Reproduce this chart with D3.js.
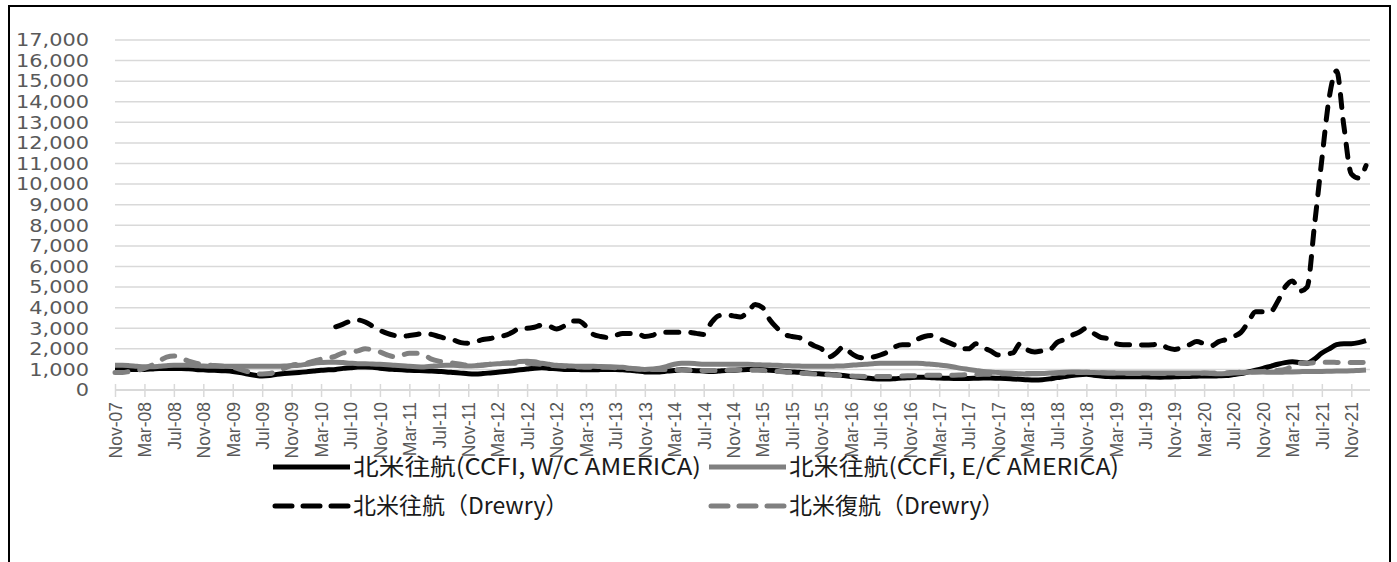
<!DOCTYPE html>
<html><head><meta charset="utf-8">
<script src="https://cdn.jsdelivr.net/npm/d3@7"></script>
<style>html,body{margin:0;padding:0;background:#fff;}svg{display:block;}</style>
</head><body>
<svg id="c" width="1397" height="562"></svg>
<script>
// Categories: monthly, Nov-07 .. Jan-22
const months = d3.timeMonth.range(new Date(2007,10,1), new Date(2022,1,1));
const tickLabels = ["Nov-07","Mar-08","Jul-08","Nov-08","Mar-09","Jul-09","Nov-09","Mar-10","Jul-10","Nov-10","Mar-11","Jul-11","Nov-11","Mar-12","Jul-12","Nov-12","Mar-13","Jul-13","Nov-13","Mar-14","Jul-14","Nov-14","Mar-15","Jul-15","Nov-15","Mar-16","Jul-16","Nov-16","Mar-17","Jul-17","Nov-17","Mar-18","Jul-18","Nov-18","Mar-19","Jul-19","Nov-19","Mar-20","Jul-20","Nov-20","Mar-21","Jul-21","Nov-21"];
const yTicks = [0,1000,2000,3000,4000,5000,6000,7000,8000,9000,10000,11000,12000,13000,14000,15000,16000,17000];
const seriesNames = ["北米往航(CCFI, W/C AMERICA)","北米往航(CCFI, E/C AMERICA)","北米往航（Drewry）","北米復航（Drewry）"];

const ccfiWC = [1000,1000,1000,1000,
1000,1020,1050,1050,1050,1050,1030,1000,
980,960,950,930,900,850,780,720,
680,700,760,800,830,850,880,920,
960,980,1000,1050,1080,1120,1120,1100,
1060,1020,1000,980,960,950,940,920,
900,880,850,820,790,780,800,830,
860,900,940,980,1020,1060,1080,1050,
1030,1000,1000,990,980,980,990,1000,
1000,980,960,920,880,870,880,920,
950,980,960,940,920,900,920,950,
960,980,1000,1000,990,960,930,900,
880,860,830,800,780,760,740,700,
660,620,580,550,530,530,550,580,
600,620,620,600,580,570,560,560,
560,570,580,580,570,560,540,520,
500,490,500,540,600,650,700,740,
760,720,680,650,640,640,640,640,
640,630,620,630,640,650,660,670,
680,680,690,700,750,800,880,960,
1050,1150,1250,1330,1370,1330,1300,1500,
1800,2000,2200,2250,2250,2300,2400];

const ccfiEC = [1200,1200,1180,1150,1130,1130,1150,1180,1200,1200,1200,1180,
1160,1150,1150,1150,1150,1150,1150,1150,
1150,1150,1150,1160,1180,1200,1250,1300,
1330,1350,1350,1330,1300,1280,1280,1260,
1250,1230,1200,1180,1150,1130,1120,1150,
1180,1200,1200,1180,1170,1180,1200,1250,
1270,1300,1330,1380,1400,1370,1300,1250,
1200,1180,1160,1150,1150,1150,1140,1130,
1120,1100,1060,1020,1000,1020,1060,1150,
1250,1300,1300,1280,1250,1250,1250,1250,
1250,1250,1250,1230,1220,1210,1200,1180,
1170,1160,1150,1150,1150,1150,1160,1170,
1200,1230,1250,1280,1300,1300,1300,1300,
1300,1300,1280,1250,1220,1180,1120,1050,
1000,950,900,870,850,830,810,790,
780,790,800,820,840,860,870,870,
860,850,840,830,830,830,830,830,
830,830,830,830,830,830,830,830,
820,800,790,800,820,840,860,870,
870,860,860,870,880,890,900,900,
900,910,920,920,930,950,970];

const drewryOut = [null,null,null,null,null,null,null,null,null,null,
null,null,null,null,null,null,null,null,null,null,
null,null,null,null,null,null,null,null,null,null,
3070,3200,3350,3400,3300,3100,2900,2750,
2650,2600,2650,2700,2750,2700,2600,2500,
2430,2300,2270,2350,2450,2500,2600,2650,
2800,3000,3000,3050,3150,3100,2960,3100,
3350,3350,3100,2700,2600,2550,2650,2750,
2750,2750,2600,2650,2800,2800,2800,2800,
2800,2750,2700,3250,3600,3650,3600,3550,
3800,4150,4000,3400,3000,2700,2600,2540,
2350,2150,2000,1600,1800,2100,1800,1600,
1550,1600,1700,1850,2100,2200,2200,2450,
2600,2650,2500,2350,2200,2000,2000,2250,
2050,1900,1700,1750,1800,2250,1950,1850,
1900,1950,2300,2450,2650,2800,3000,2750,
2550,2500,2250,2200,2200,2200,2180,2200,
2250,2050,1970,2070,2200,2350,2250,2150,
2350,2450,2600,2800,3300,3800,3800,3800,
4300,5000,5300,4800,5000,8000,11200,14200,
15500,12800,10500,10300,10900];

const drewryRet = [850,850,900,950,1050,1200,1400,1600,1650,1550,1400,1300,
1250,1200,1180,1150,1100,1000,900,800,
780,800,900,1050,1200,1250,1300,1400,
1500,1550,1650,1800,1850,1900,2000,1950,
1850,1700,1620,1700,1780,1780,1700,1500,
1400,1350,1300,1250,1200,1200,1220,1250,
1280,1300,1300,1300,1300,1270,1250,1200,
1180,1150,1130,1120,1100,1100,1100,1100,
1080,1060,1040,1020,1000,1000,1000,1000,
980,970,960,960,950,950,950,960,
970,980,970,960,950,920,900,880,
850,820,800,780,760,740,720,700,
680,670,660,650,650,650,660,680,
690,700,710,720,720,720,720,730,
740,750,760,770,780,790,800,800,
800,800,800,810,820,830,840,850,
860,850,840,830,820,810,800,800,
800,800,800,800,800,800,800,810,
820,820,830,840,850,860,870,880,
900,930,950,1000,1150,1300,1300,1330,
1350,1350,1340,1330,1330,1330,1340];

(function(){
const svg = d3.select("#c");
const plotLeft = 115, plotRight = 1366, axisEnd = 1370, plotTop = 40, plotBottom = 390;
const x = d3.scaleLinear().domain([0, months.length - 1]).range([plotLeft, plotRight]);
const y = d3.scaleLinear().domain([0, 17000]).range([plotBottom, plotTop]);

// border
svg.append("rect").attr("x",9).attr("y",6).attr("width",1381).attr("height",600)
  .attr("fill","none").attr("stroke","#000").attr("stroke-width",2);

// gridlines
svg.append("g").selectAll("line").data(yTicks.filter(d=>d>0)).join("line")
  .attr("x1",plotLeft).attr("x2",axisEnd).attr("y1",d=>y(d)).attr("y2",d=>y(d))
  .attr("stroke","#d9d9d9").attr("stroke-width",1.5);

// y labels
svg.append("g").selectAll("text").data(yTicks).join("text")
  .attr("transform",d=>`translate(89,${y(d)}) scale(1.16,1)`)
  .attr("text-anchor","end").attr("dy","0.35em")
  .attr("font-family","'DejaVu Sans', Verdana, sans-serif").attr("font-size",18)
  .attr("fill","#595959").text(d=>d3.format(",")(d));

// x axis
const tickIdx = d3.range(0, months.length, 4);
const xAxis = d3.axisBottom(x).tickValues(tickIdx)
  .tickFormat((d,i)=>tickLabels[i]).tickSize(7).tickSizeOuter(0);
const gx = svg.append("g").attr("transform",`translate(0,${plotBottom})`).call(xAxis);
gx.select(".domain").remove();
gx.append("line").attr("x1",plotLeft).attr("x2",axisEnd).attr("stroke","#d9d9d9").attr("stroke-width",2);
gx.selectAll(".tick line").attr("y1",-6).attr("y2",7).attr("stroke","#d9d9d9").attr("stroke-width",1.5);
gx.selectAll(".tick text").attr("transform","rotate(-90)").attr("x",-12).attr("y",0)
  .attr("dy","0.36em").attr("text-anchor","end")
  .attr("font-family","'Liberation Sans', Arial, sans-serif").attr("font-size",17.5).attr("fill","#595959");

// series
const series = [
  {vals: ccfiWC, color:"#000", dash:null},
  {vals: ccfiEC, color:"#808080", dash:null},
  {vals: drewryOut, color:"#000", dash:"13,12"},
  {vals: drewryRet, color:"#808080", dash:"13,12"}
];
const line = d3.line().defined(d=>d!=null).x((d,i)=>x(i)).y(d=>y(d)).curve(d3.curveMonotoneX);
series.forEach(s=>{
  svg.append("path").attr("d",line(s.vals)).attr("fill","none")
    .attr("stroke",s.color).attr("stroke-width",5)
    .attr("stroke-linecap",s.dash?"round":"butt").attr("stroke-linejoin","round")
    .attr("stroke-dasharray",s.dash);
});

// legend
const legendPos = [
  {x:273, y:467, w:348},
  {x:709, y:467, w:330},
  {x:273, y:506, w:null},
  {x:709, y:506, w:null}
];
legendPos.forEach((p,i)=>{
  const s = series[i];
  const g = svg.append("g");
  g.append("line").attr("x1",p.x+(s.dash?2:0)).attr("x2",p.x+77-(s.dash?2:0)).attr("y1",p.y).attr("y2",p.y)
    .attr("stroke",s.color).attr("stroke-width",5)
    .attr("stroke-linecap",s.dash?"round":"butt").attr("stroke-dasharray",s.dash?"17,11":null);
  const t = g.append("text").attr("x",p.x+80).attr("y",p.y).attr("dy","0.36em")
    .attr("font-family","'Noto Sans CJK JP', sans-serif").attr("font-size",23)
    .attr("fill","#1a1a1a").text(seriesNames[i]);
  if (p.w) t.attr("textLength",p.w).attr("lengthAdjust","spacingAndGlyphs");
});
})();
</script>
</body></html>
